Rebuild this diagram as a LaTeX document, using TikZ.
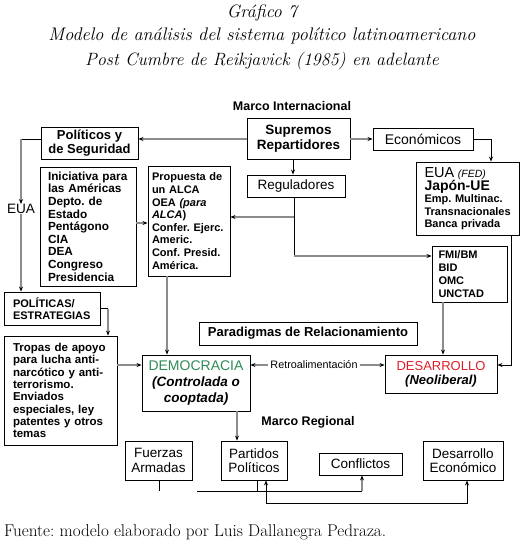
\documentclass[tikz,border=0pt]{standalone}
\usepackage{fontspec}
\newfontfamily\arial{Liberation Sans}
\usetikzlibrary{arrows.meta,calc}
\definecolor{lgray}{RGB}{140,140,140}
\definecolor{dgreen}{RGB}{46,139,87}
\definecolor{dred}{RGB}{225,30,40}
\newcommand\fs[2]{\fontsize{#1}{#2}\selectfont}
\newcommand\bx[7]{\node[box,#6,minimum width={#4pt-#2pt},minimum height={#5pt-#3pt}] (#1) at ({(#2+#4)/2},{(#3+#5)/2}) {#7};}
\tikzset{
  box/.style={draw, line width=0.9pt, inner sep=0pt, align=center, font=\arial},
  lbox/.style={box, align=left},
  kline/.style={line width=0.8pt, black},
  gline/.style={line width=1.5pt, lgray},
  arr/.style={-{Stealth[length=5pt,width=4pt,black]}},
  lab/.style={inner sep=0pt, font=\arial}
}
\frenchspacing
\begin{document}
\frenchspacing
\begin{tikzpicture}[x=1pt,y=-1pt]
\useasboundingbox (0,0) rectangle (524,547);
% titles
\node[inner sep=0pt] (t1) at (262,13) {\fs{17.9}{20}\itshape Gráfico 7};
\node[inner sep=0pt] (t2) at (262,36) {\fs{18.2}{20}\itshape Modelo de análisis del sistema político latinoamericano};
\node[inner sep=0pt] (t3) at (262,61) {\fs{17.8}{20}\itshape Post Cumbre de Reikjavick (1985) en adelante};
\node[lab] (mi) at (292,106) {\bfseries\fs{12.5}{14}Marco Internacional};
% boxes
\bx{pol}{41}{127}{138}{159}{font=\arial\bfseries\fs{13}{14}}{Políticos y\\de Seguridad}
\bx{sup}{247}{118}{350}{159}{font=\arial\bfseries\fs{13.5}{15}}{Supremos\\Repartidores}
\bx{eco}{373}{128}{473}{150}{font=\arial\fs{14}{15}}{Económicos}
\bx{reg}{247}{175}{345}{197}{font=\arial\fs{13.5}{15}}{Reguladores}
\bx{fed}{416}{162}{519}{235}{lbox,text width=86pt,font=\arial\bfseries\fs{11}{12.3}}{{\mdseries\fs{14.5}{14}EUA \itshape\fs{10.5}{12}(FED)}\\{\fs{14}{13}Japón-UE}\\Emp. Multinac.\\Transnacionales\\Banca privada}
\bx{fmi}{432}{246}{507}{302}{lbox,text width=62pt,font=\arial\bfseries\fs{11}{13}}{FMI/BM\\BID\\OMC\\UNCTAD}
\bx{ini}{40}{167}{136}{286}{lbox,text width=80pt,font=\arial\bfseries\fs{11.8}{12.6}}{Iniciativa para\\las Américas\\Depto. de\\Estado\\Pentágono\\CIA\\DEA\\Congreso\\Presidencia}
\bx{pro}{148}{166}{230}{276}{lbox,text width=74pt,font=\arial\bfseries\fs{11}{12.6}}{Propuesta de\\un ALCA\\OEA \textit{(para}\\\textit{ALCA})\\Confer. Ejerc.\\Americ.\\Conf. Presid.\\América.}
\node[lab,font=\arial\fs{13.6}{15}] (eua) at (21,209) {EUA};
\bx{pe}{4}{292}{100}{325}{lbox,text width=78pt,font=\arial\bfseries\fs{11}{12.3}}{POLÍTICAS/\\ESTRATEGIAS}
\bx{tro}{4}{336}{117}{445}{lbox,text width=95pt,font=\arial\bfseries\fs{11.5}{12.3}}{Tropas de apoyo\\para lucha anti-\\narcótico y anti-\\terrorismo.\\Enviados\\especiales, ley\\patentes y otros\\temas}
\bx{par}{199}{322}{417}{345}{font=\arial\bfseries\fs{13}{15}}{Paradigmas de Relacionamiento}
\bx{dem}{142}{355}{250}{411}{font=\arial\fs{13.5}{16}}{{\color{dgreen}\fs{14}{16}DEMOCRACIA}\\{\bfseries\itshape (Controlada o}\\{\bfseries\itshape cooptada)}}
\bx{des}{385}{355}{497}{393}{font=\arial\fs{13}{14}}{{\color{dred}DESARROLLO}\\{\bfseries\itshape (Neoliberal)}}
\node[lab,fill=white,inner xsep=2pt] (ret) at (314,365) {\fs{10.8}{12}Retroalimentación};
\node[lab] (mr) at (308,422) {\bfseries\fs{12.5}{14}Marco Regional};
\bx{fue}{125}{441}{192}{480}{font=\arial\fs{13.5}{14.5}}{Fuerzas\\Armadas}
\bx{pp}{221}{441}{287}{480}{font=\arial\fs{13.5}{14.5}}{Partidos\\Políticos}
\bx{con}{319}{453}{402}{475}{font=\arial\fs{13.5}{14.5}}{Conflictos}
\bx{dse}{423}{441}{503}{480}{font=\arial\fs{13.5}{14.5}}{Desarrollo\\Económico}
\node[inner sep=0pt,anchor=west] (src) at (4,532) {\fs{17.1}{18}Fuente: modelo elaborado por Luis Dallanegra Pedraza.};
% helper coordinates
\coordinate (y139) at (0,139);
\coordinate (x293) at (293,0);
\coordinate (j1) at (294,217);
\coordinate (j2) at (294,256);
\coordinate (y223) at (0,223);
\coordinate (c21) at (21,139);
\coordinate (x108) at (108,0);
\coordinate (y365) at (0,365);
\coordinate (x167) at (167,0);
\coordinate (x443) at (443,0);
\coordinate (x511) at (511,0);
\coordinate (x237) at (237,0);
\coordinate (x491) at (491,0);
% connectors
\draw[gline,arr] (sup.west |- y139) -- (pol.east |- y139);
\draw[gline,arr] (sup.east |- y139) -- (eco.west |- y139);
\draw[kline,arr] (sup.south -| x293) -- (reg.north -| x293);
\draw[kline,arr] (eco.east) -| (fed.north -| x491);
\draw[kline] (reg.south -| j1) -- (j2);
\draw[gline,arr] (j2) -- (fmi.west |- j2);
\draw[gline,arr] (j1) -- (pro.east |- j1);
\draw[gline,arr] (ini.east |- y223) -- (pro.west |- y223);
\draw[kline] (pol.west |- y139) -- (c21);
\draw[gline,arr] (c21) -- (eua.north);
\draw[gline,arr] (eua.south) -- (pe.north -| eua.south);
\draw[kline] (pe.east) -- (pe.east -| x108);
\draw[gline,arr] (pe.east -| x108) -- (tro.north -| x108);
\draw[gline,arr] (tro.east |- y365) -- (dem.west |- y365);
\draw[gline,arr] (pro.south -| x167) -- (dem.north -| x167);
\draw[gline,arr] (ret.west) -- (dem.east |- y365);
\draw[gline,arr] (ret.east) -- (des.west |- y365);
\draw[gline,arr] (fmi.south -| x443) -- (des.north -| x443);
\draw[kline,arr] (fed.south -| x511) |- (des.east |- y365);
\draw[gline,arr] (dem.south -| x237) -- (pp.north -| x237);
% bottom connectors
\coordinate (b1) at (159,491);
\coordinate (h1) at (197,491);
\coordinate (h2) at (362,491);
\coordinate (p1) at (257,491);
\coordinate (q1) at (266,503);
\coordinate (q2) at (467,503);
\draw[kline] (fue.south -| b1) -- (b1);
\draw[kline] (h1) -- (h2);
\draw[kline] (pp.south -| p1) -- (p1);
\draw[gline,arr] (h2) -- (con.south -| h2);
\draw[kline,arr] (q1) -- (pp.south -| q1);
\draw[kline,arr] (q1) -- (q2) -- (dse.south -| q2);
\end{tikzpicture}
\end{document}
